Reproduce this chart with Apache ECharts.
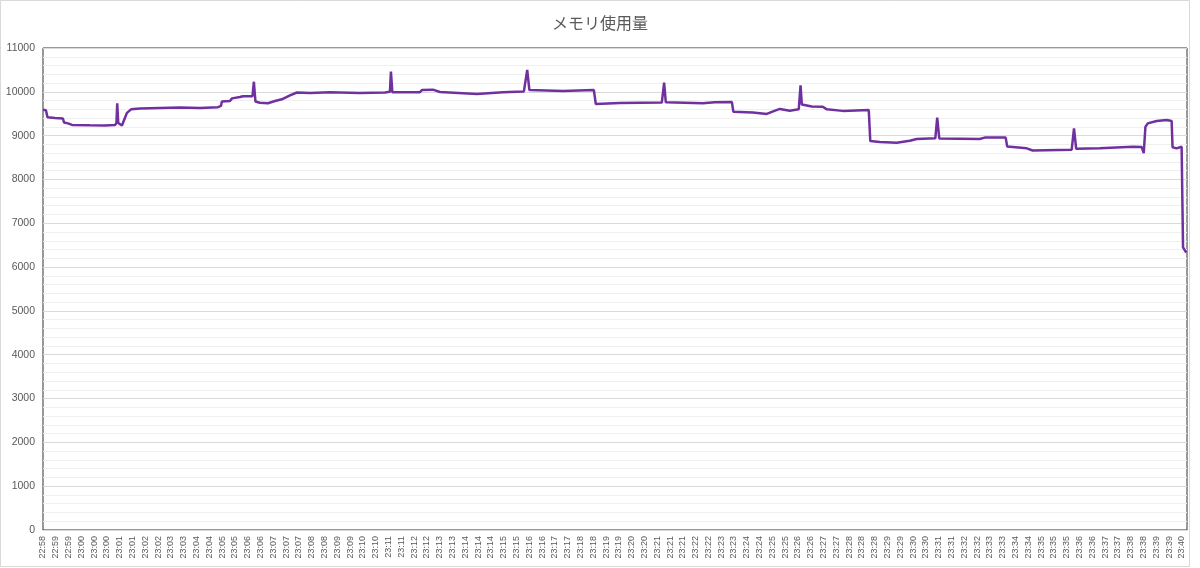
<!DOCTYPE html>
<html>
<head>
<meta charset="utf-8">
<script src="https://cdn.jsdelivr.net/npm/echarts@6/dist/echarts.min.js"></script>
<style>
html,body{margin:0;padding:0;background:#fff;}
#chart{width:1200px;height:568px;}
</style>
</head>
<body>
<div id="chart"></div>
<script>
// Title
const chartTitle = 'メモリ使用量';

// Category labels along the time axis (one every ~28 samples)
const timeLabels = [
  '22:58','22:59','22:59','23:00','23:00','23:00','23:01','23:01','23:02','23:02',
  '23:03','23:03','23:04','23:04','23:05','23:05','23:06','23:06','23:07','23:07',
  '23:07','23:08','23:08','23:09','23:09','23:10','23:10','23:11','23:11','23:12',
  '23:12','23:13','23:13','23:14','23:14','23:14','23:15','23:15','23:16','23:16',
  '23:17','23:17','23:18','23:18','23:19','23:19','23:20','23:20','23:21','23:21',
  '23:21','23:22','23:22','23:23','23:23','23:24','23:24','23:25','23:25','23:26',
  '23:26','23:27','23:27','23:28','23:28','23:28','23:29','23:29','23:30','23:30',
  '23:31','23:31','23:32','23:32','23:33','23:33','23:34','23:34','23:35','23:35',
  '23:35','23:36','23:36','23:37','23:37','23:38','23:38','23:39','23:39','23:40'
];

// Sample positions along the time axis (in label steps)
const samplePos = [
  0, 0.23, 0.35, 0.94, 1.56, 1.64, 1.95, 2.27, 3.67, 4.84,
  5.63, 5.74, 5.80, 5.88, 6.02, 6.17, 6.33, 6.56, 6.88, 7.58,
  10.70, 12.27, 13.67, 13.91, 13.98, 14.61, 14.77, 15.39, 15.63, 16.37,
  16.48, 16.60, 16.95, 17.58, 18.13, 18.67, 19.30, 19.84, 20.86, 22.42,
  24.77, 26.72, 27.11, 27.19, 27.30, 29.45, 29.61, 30.47, 31.02, 33.91,
  35.94, 37.58, 37.84, 38.01, 40.63, 40.78, 43.05, 43.20, 45.08, 48.36,
  48.54, 48.67, 51.56, 52.50, 53.83, 53.95, 55.47, 56.56, 57.11, 57.58,
  58.36, 59.06, 59.20, 59.30, 60.08, 60.94, 61.25, 62.50, 64.53, 64.65,
  65.39, 66.72, 67.73, 68.28, 69.73, 69.88, 70.04, 73.20, 73.59, 75.23,
  75.35, 76.88, 77.34, 80.39, 80.57, 80.74, 82.58, 85.16, 85.86, 86.02,
  86.15, 86.33, 87.03, 87.81, 88.20, 88.27, 88.59, 88.98, 89.09, 89.22,
  89.34
];

// Memory usage (MB) at those samples
const memoryUsage = [
  9590, 9580, 9420, 9400, 9390, 9300, 9280, 9245, 9235, 9230,
  9240, 9290, 9740, 9290, 9260, 9230, 9350, 9520, 9600, 9620,
  9640, 9630, 9650, 9680, 9780, 9790, 9850, 9880, 9900, 9900,
  10230, 9780, 9750, 9740, 9790, 9830, 9920, 9985, 9975, 9990,
  9975, 9985, 10000, 10460, 9990, 9990, 10040, 10050, 9995, 9950,
  9990, 10010, 10500, 10040, 10020, 10065, 10040, 9720, 9745, 9755,
  10210, 9760, 9740, 9760, 9770, 9545, 9530, 9495, 9560, 9610,
  9570, 9600, 10150, 9710, 9665, 9660, 9600, 9565, 9585, 8875,
  8855, 8840, 8885, 8925, 8940, 9410, 8935, 8925, 8955, 8955,
  8750, 8710, 8660, 8680, 9165, 8700, 8710, 8745, 8740, 8600,
  9200, 9280, 9335, 9355, 9335, 8735, 8710, 8745, 6450, 6420,
  6330
];

// Y axis settings
const yMin = 0, yMax = 11000, yStep = 1000;

const chart = echarts.init(document.getElementById('chart'), null, {renderer: 'canvas'});
const textColor = '#595959';
const numFont = 'Liberation Sans, Arial, sans-serif';

chart.setOption({
  backgroundColor: '#ffffff',
  animation: false,
  title: {
    text: chartTitle,
    left: 'center',
    top: 10,
    textStyle: {
      fontFamily: 'Noto Sans CJK JP, sans-serif',
      fontSize: 16,
      fontWeight: 'normal',
      color: textColor
    }
  },
  graphic: [{
    type: 'rect',
    shape: {x: 0.5, y: 0.5, width: 1189, height: 566},
    style: {fill: 'none', stroke: '#d9d9d9', lineWidth: 1},
    silent: true,
    z: -10
  }],
  grid: {
    left: 43, right: 13, top: 48, bottom: 38,
    show: true,
    borderColor: '#333333',
    borderWidth: 1,
    containLabel: false
  },
  xAxis: {
    type: 'value',
    min: 0,
    max: 89.4,
    interval: 1,
    axisLine: {show: true, lineStyle: {color: '#d9d9d9', width: 1}},
    axisTick: {show: false},
    splitLine: {show: false},
    axisLabel: {
      rotate: 90,
      fontSize: 9,
      margin: 6,
      color: textColor,
      fontFamily: numFont,
      showMaxLabel: false,
      formatter: function (v) {
        const r = Math.round(v);
        return Math.abs(v - r) < 1e-6 && timeLabels[r] !== undefined ? timeLabels[r] : '';
      }
    }
  },
  yAxis: {
    type: 'value',
    min: yMin,
    max: yMax,
    interval: yStep,
    axisLine: {show: false},
    axisTick: {show: false},
    axisLabel: {
      fontSize: 10.5, color: textColor, margin: 8, fontFamily: numFont,
      formatter: function (v) { return String(v); }
    },
    splitLine: {show: true, lineStyle: {color: '#d9d9d9', width: 1}},
    minorTick: {show: false, splitNumber: 5},
    minorSplitLine: {show: true, lineStyle: {color: '#efefef', width: 1}}
  },
  series: [{
    type: 'line',
    data: samplePos.map((x, i) => [x, memoryUsage[i]]),
    showSymbol: false,
    symbol: 'none',
    smooth: false,
    lineStyle: {color: '#7030A0', width: 2.5},
    z: 5
  }]
});
</script>
</body>
</html>
